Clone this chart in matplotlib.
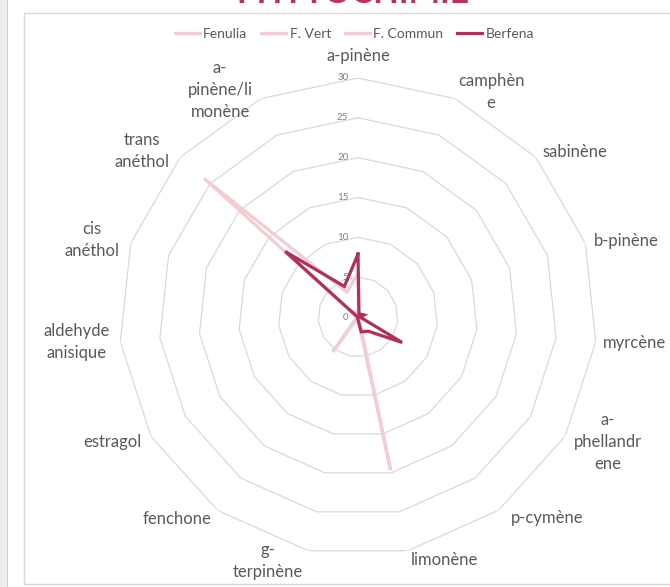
import numpy as np
import matplotlib
matplotlib.use("Agg")
import matplotlib.pyplot as plt
from matplotlib.patches import Rectangle

plt.rcParams['font.family'] = ['Lato', 'DejaVu Sans']

# Data
categories = ["a-pinène", "camphène", "sabinène", "b-pinène", "myrcène",
              "a-phellandrene", "p-cymène", "limonène", "g-terpinène", "fenchone",
              "estragol", "aldehyde anisique", "cis anéthol", "trans anéthol",
              "a-pinène/limonène"]
cat_labels = ["a-pinène", "camphèn\ne", "sabinène", "b-pinène", "myrcène",
              "a-\nphellandr\nene", "p-cymène", "limonène", "g-\nterpinène", "fenchone",
              "estragol", "aldehyde\nanisique", "cis\nanéthol", "trans\nanéthol",
              "a-\npinène/li\nmonène"]
fenulia = [5.5, 0.1, 0.1, 0.2, 0.2, 0.3, 0.3, 1.5, 0.1, 0.5, 0.1, 0.1, 0.2, 26.0, 3.4]
f_vert = [0.5, 0.1, 0.1, 0.2, 0.3, 0.3, 0.2, 19.6, 0.1, 0.4, 0.1, 0.1, 0.1, 1.0, 0.5]
f_commun = [0.2, 0.0, 0.0, 0.1, 0.1, 0.1, 0.2, 0.8, 0.1, 5.4, 0.3, 0.1, 0.1, 1.5, 0.4]
berfena = [7.9, 0.3, 0.5, 0.8, 0.3, 6.4, 2.2, 1.9, 0.2, 0.0, 0.0, 0.0, 0.1, 12.3, 4.2]
ring_ticks = [0, 5, 10, 15, 20, 25, 30]

# label placement (angle in degrees, radius in data units)
label_pos = [(0, 32.8), (30.6, 32.8), (52.8, 34.2), (74.2, 35.0), (95.4, 34.8),
             (116.6, 35.1), (136.8, 34.6), (160.5, 32.4), (200.2, 32.6), (221.9, 34.0),
             (243.1, 34.6), (265, 35.5), (286.1, 34.8), (307.5, 34.2), (328.7, 33.3)]

light = '#F2CED2'
dark = '#B0305C'
grid_col = '#D9D9D9'
text_col = '#595959'

n = len(categories)
angles = np.linspace(0, 2 * np.pi, n, endpoint=False)
closed = np.append(angles, angles[0])

W, H = 670, 587
fig = plt.figure(figsize=(W / 100, H / 100), dpi=100)

# background frame (behind the axes)
fig.patches.append(Rectangle((0, 0), 8 / W, 1, transform=fig.transFigure,
                             facecolor='#EEEEEE', edgecolor='none', zorder=-3))
fig.patches.append(Rectangle((7 / W, 0), 1.2 / W, 1, transform=fig.transFigure,
                             facecolor='#D0D0D0', edgecolor='none', zorder=-3))
fig.patches.append(Rectangle((24 / W, 3 / H), 1, 1 - 16 / H, transform=fig.transFigure,
                             facecolor='white', edgecolor=grid_col, lw=1, zorder=-2))

cx, cy, R = 358, 317, 239
ax = fig.add_axes([(cx - R) / W, (H - cy - R) / H, 2 * R / W, 2 * R / H], polar=True)
ax.set_theta_zero_location('N')
ax.set_theta_direction(-1)
ax.set_ylim(0, 30)
ax.grid(False)
ax.spines['polar'].set_visible(False)
ax.set_xticks([])
ax.set_yticks([])
ax.patch.set_alpha(0)

# polygon rings
for r in ring_ticks[1:]:
    ax.plot(closed, [r] * (n + 1), color=grid_col, lw=0.9, zorder=1)

for r in ring_ticks:
    ax.annotate(str(r), xy=(0, r), xytext=(-7, 0), textcoords='offset points',
                ha='right', va='center', fontsize=7, color='#7F7F7F')

series = [("Fenulia", fenulia, light), ("F. Vert", f_vert, light),
          ("F. Commun", f_commun, light), ("Berfena", berfena, dark)]
handles = []
for name, vals, col in series:
    v = np.append(vals, vals[0])
    h, = ax.plot(closed, v, color=col, lw=2.3, label=name, zorder=3,
                 solid_joinstyle='miter')
    handles.append(h)

for lab, (ang, rad) in zip(cat_labels, label_pos):
    ax.text(np.deg2rad(ang), rad, lab, ha='center', va='center', fontsize=12,
            color=text_col, linespacing=1.45)

fig.legend(handles=handles, loc='center', bbox_to_anchor=(0.529, 1 - 34 / H), ncol=4,
           frameon=False, fontsize=10, handlelength=1.8, handletextpad=0.25,
           columnspacing=1.0, labelcolor=text_col)

fig.text(0.526, 1 - 3 / H, "PHYTOCHIMIE", ha='center', va='baseline', fontsize=24,
         fontweight='bold', color='#B5345E')

fig.savefig('out.png', dpi=100)
